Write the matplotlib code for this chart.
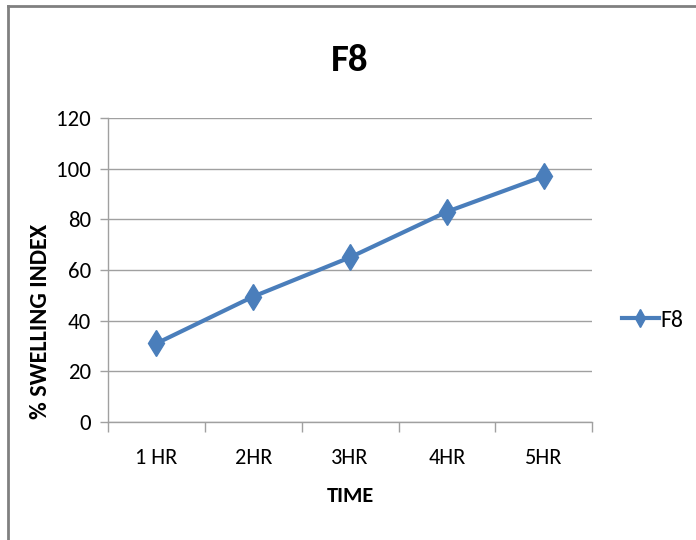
import matplotlib
matplotlib.use("Agg")
import matplotlib.pyplot as plt
from matplotlib.lines import Line2D

# Swelling index of formulation F8 over time
times = ["1 HR", "2HR", "3HR", "4HR", "5HR"]
swelling_f8 = [31, 49.5, 65, 83, 97]
y_ticks = [0, 20, 40, 60, 80, 100, 120]

font = ["Carlito", "DejaVu Sans"]
blue = "#4A7EBB"
grid_gray = "#A0A0A0"

fig = plt.figure(figsize=(6.96, 5.40), dpi=100)
ax = fig.add_axes([0.155, 0.2185, 0.696, 0.563])

x = list(range(len(times)))
ax.plot(x, swelling_f8, color=blue, linewidth=3, marker="d",
        markersize=13, markeredgecolor=blue, markerfacecolor=blue,
        label="F8", zorder=3)

ax.set_xlim(-0.5, len(times) - 0.5)
ax.set_ylim(0, 120)
ax.set_yticks(y_ticks)
ax.set_yticklabels([str(v) for v in y_ticks], fontfamily=font, fontsize=16.5)
ax.set_xticks(x)
ax.set_xticklabels(times, fontfamily=font, fontsize=16)
ax.set_xticks([i - 0.5 for i in range(len(times) + 1)], minor=True)
ax.tick_params(axis="x", which="major", length=0, pad=19)
ax.tick_params(axis="x", which="minor", length=7, color=grid_gray, width=1)
ax.tick_params(axis="y", length=6, color=grid_gray, width=1, pad=6)

ax.grid(axis="y", color=grid_gray, linewidth=1)
ax.set_axisbelow(True)
for s in ("top", "right"):
    ax.spines[s].set_visible(False)
for s in ("left", "bottom"):
    ax.spines[s].set_color(grid_gray)
    ax.spines[s].set_linewidth(1)

ax.set_title("F8", fontfamily=font, fontsize=28, fontweight="bold", pad=34)
ax.set_xlabel("TIME", fontfamily=font, fontsize=16, fontweight="bold", labelpad=13)
fig.text(0.058, 0.404, "% SWELLING INDEX", rotation=90, ha="center", va="center",
         fontfamily=font, fontsize=17.5, fontweight="bold")

fig.legend(handles=[Line2D([0], [0], color=blue, linewidth=3, marker="d",
                           markersize=9, label="F8")],
           loc="center left", bbox_to_anchor=(0.893, 0.407), frameon=False,
           prop={"family": font, "size": 17}, handlelength=1.6,
           handletextpad=0.05, borderaxespad=0, borderpad=0)

# Outer frame of the chart area
fig.add_artist(Line2D([8 / 696, 1.0], [1 - 6 / 540, 1 - 6 / 540],
                      transform=fig.transFigure, color="#808080", linewidth=2))
fig.add_artist(Line2D([8 / 696, 8 / 696], [0.0, 1 - 6 / 540],
                      transform=fig.transFigure, color="#808080", linewidth=2))

fig.savefig("out.png", dpi=100)
